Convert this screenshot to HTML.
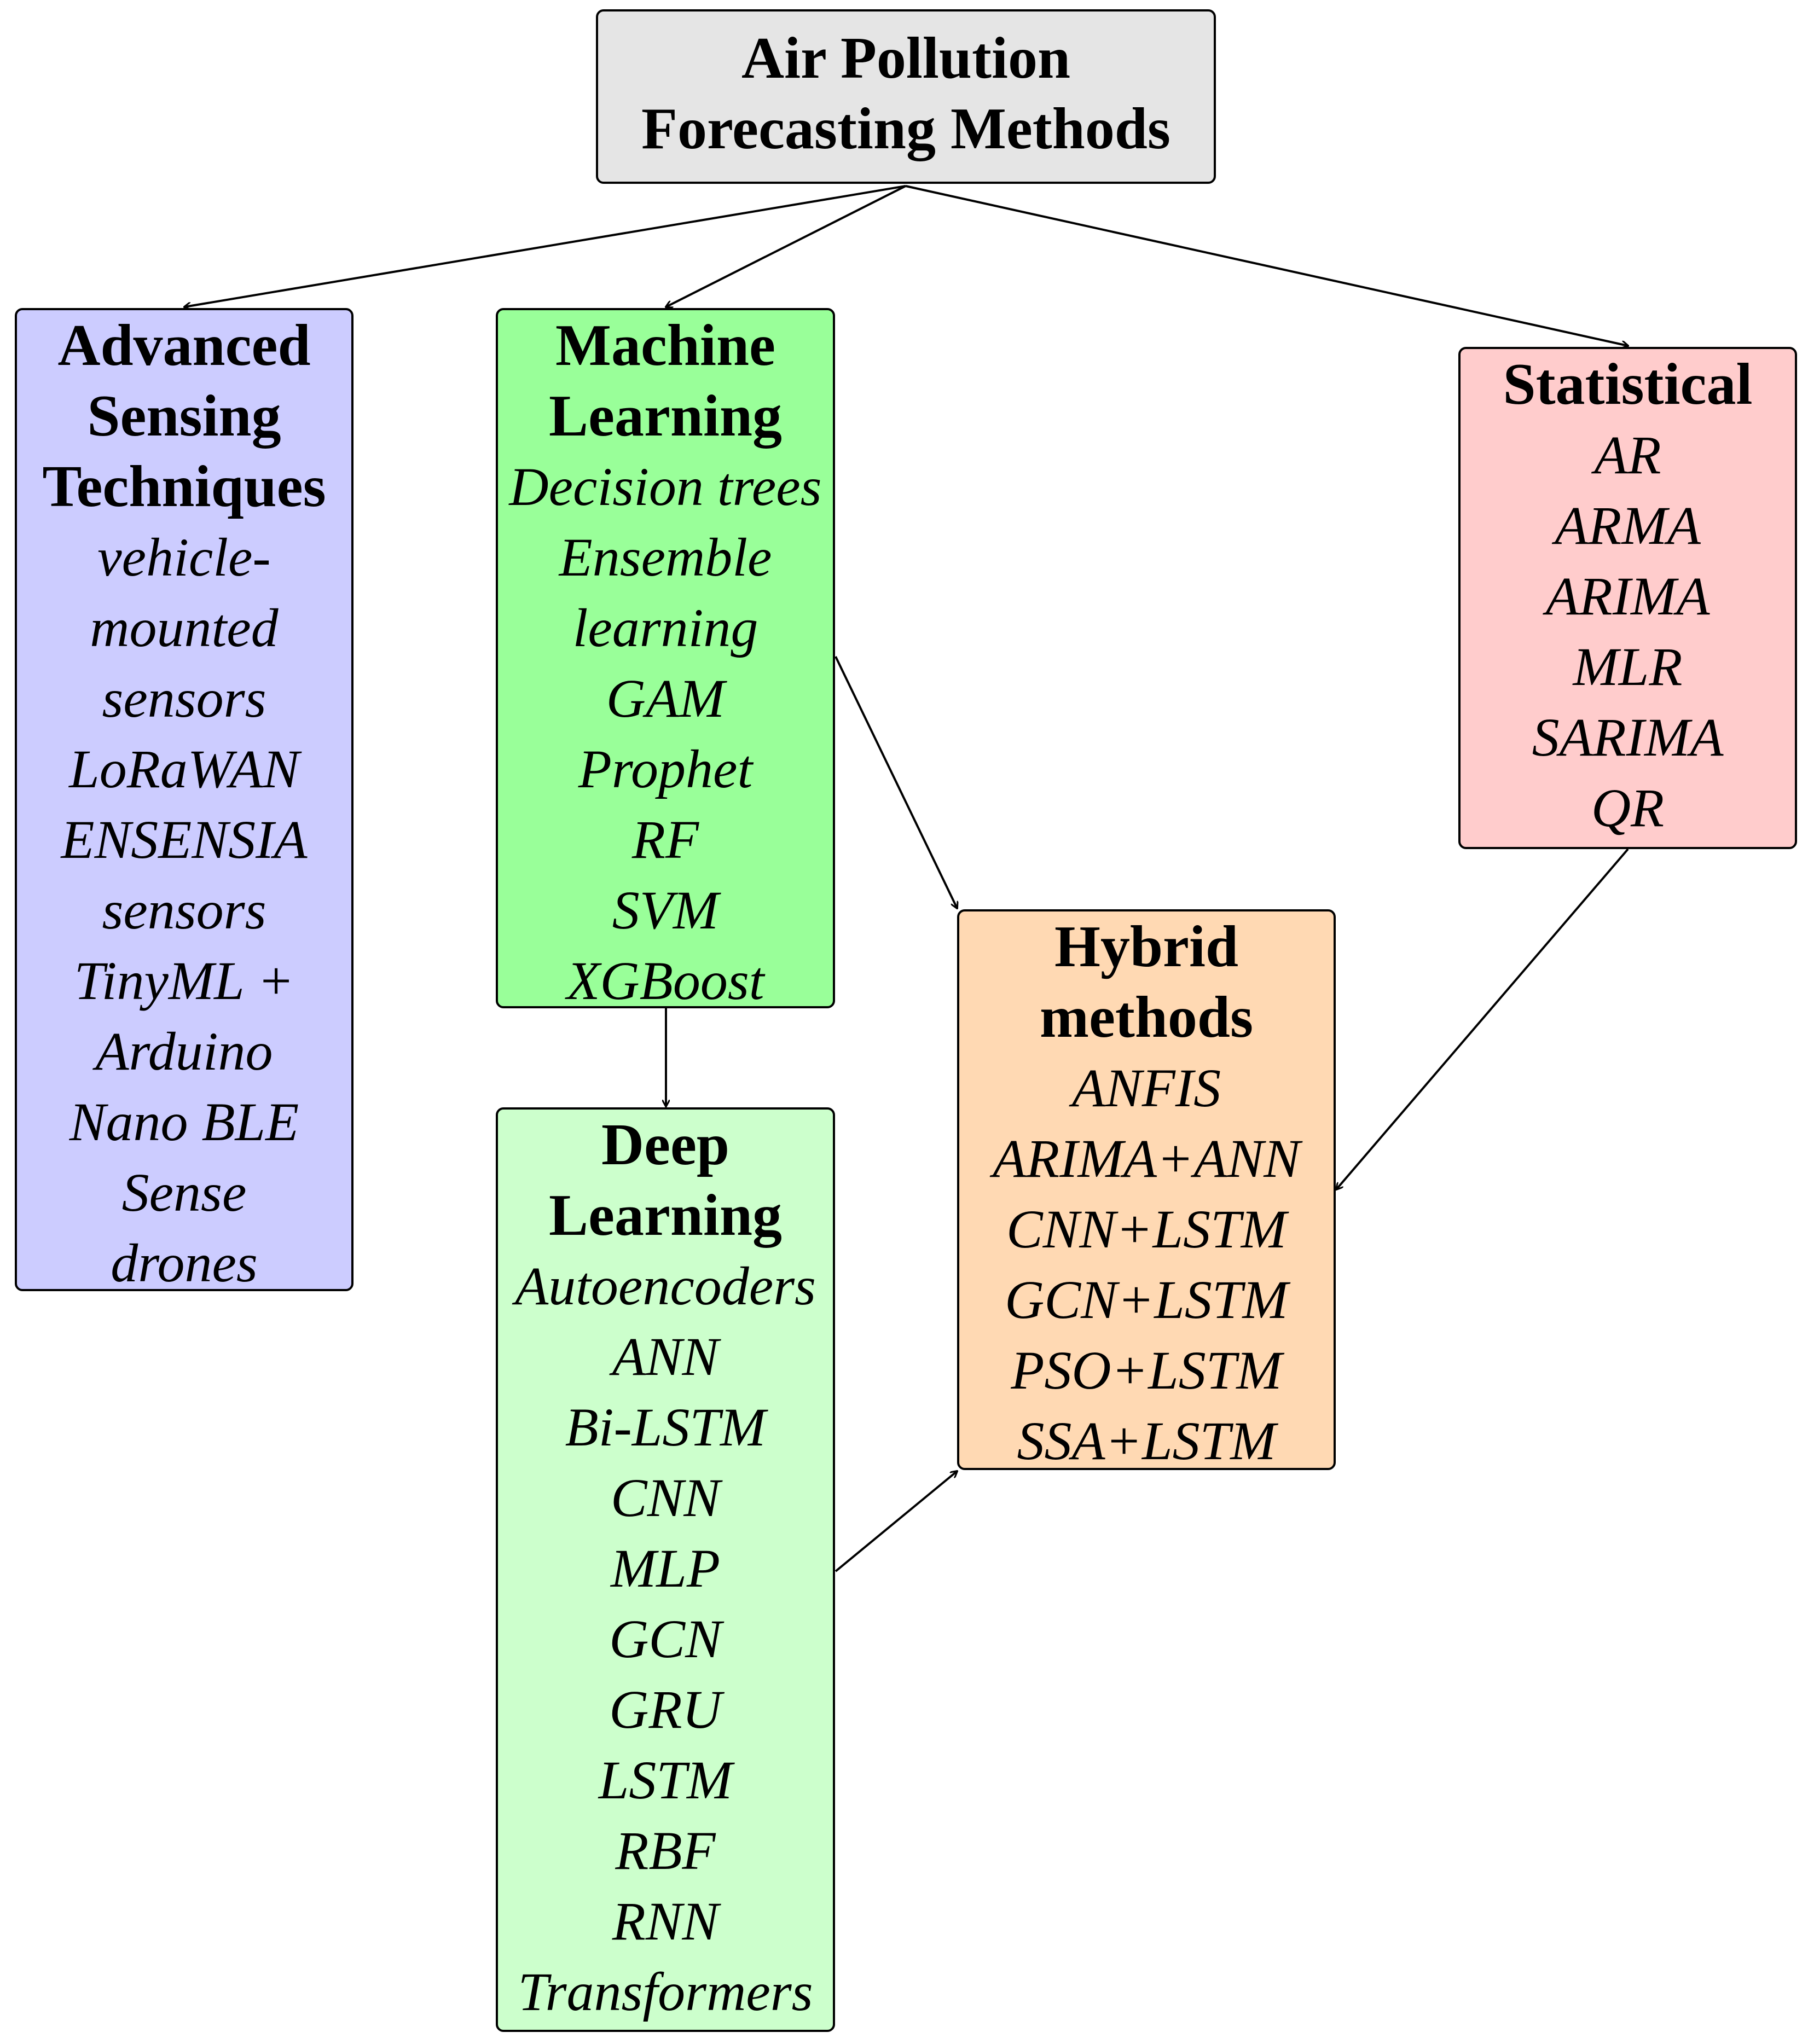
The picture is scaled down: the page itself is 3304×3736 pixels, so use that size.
<!DOCTYPE html>
<html><head><meta charset="utf-8"><style>
html,body{margin:0;padding:0;background:#fff;}
body{width:3304px;height:3736px;position:relative;overflow:hidden;font-family:"Liberation Serif",serif;}
.b{position:absolute;box-sizing:border-box;border:4px solid #000;border-radius:14px;text-align:center;line-height:129px;white-space:nowrap;}
.t{font-weight:bold;font-size:108px;display:block;}
.i{font-style:italic;font-size:100px;display:block;}
svg{position:absolute;left:0;top:0;}
</style></head><body>
<svg width="3304" height="3736">
<defs><marker id="a" markerWidth="14" markerHeight="14" refX="12" refY="7" orient="auto" markerUnits="userSpaceOnUse"><path d="M0,0 L13,7 L0,14" fill="none" stroke="#000" stroke-width="3"/></marker></defs>
<g stroke="#000" stroke-width="4" fill="none" marker-end="url(#a)">
<line x1="1655" y1="340" x2="337" y2="561"/>
<line x1="1655" y1="340" x2="1217" y2="561"/>
<line x1="1655" y1="340" x2="2975" y2="632"/>
<line x1="1527" y1="1200" x2="1749" y2="1660"/>
<line x1="2975" y1="1552" x2="2442" y2="2174"/>
<line x1="1217" y1="1843" x2="1217" y2="2022"/>
<line x1="1527" y1="2872" x2="1749" y2="2689"/>
</g></svg>
<div class="b" style="left:1089px;top:17px;width:1133px;height:319px;background:#e5e5e5;padding-top:21px;"><span class="t">Air Pollution</span><span class="t">Forecasting Methods</span></div>
<div class="b" style="left:27px;top:563px;width:619px;height:1797px;background:#ccccff;"><span class="t">Advanced</span><span class="t">Sensing</span><span class="t">Techniques</span><span class="i">vehicle-</span><span class="i">mounted</span><span class="i">sensors</span><span class="i">LoRaWAN</span><span class="i">ENSENSIA</span><span class="i">sensors</span><span class="i">TinyML +</span><span class="i">Arduino</span><span class="i">Nano BLE</span><span class="i">Sense</span><span class="i">drones</span></div>
<div class="b" style="left:906px;top:563px;width:620px;height:1280px;background:#99ff99;"><span class="t">Machine</span><span class="t">Learning</span><span class="i">Decision trees</span><span class="i">Ensemble</span><span class="i">learning</span><span class="i">GAM</span><span class="i">Prophet</span><span class="i">RF</span><span class="i">SVM</span><span class="i">XGBoost</span></div>
<div class="b" style="left:2665px;top:634px;width:619px;height:918px;background:#ffcccc;"><span class="t">Statistical</span><span class="i">AR</span><span class="i">ARMA</span><span class="i">ARIMA</span><span class="i">MLR</span><span class="i">SARIMA</span><span class="i">QR</span></div>
<div class="b" style="left:1749px;top:1662px;width:692px;height:1025px;background:#ffd9b3;"><span class="t">Hybrid</span><span class="t">methods</span><span class="i">ANFIS</span><span class="i">ARIMA+ANN</span><span class="i">CNN+LSTM</span><span class="i">GCN+LSTM</span><span class="i">PSO+LSTM</span><span class="i">SSA+LSTM</span></div>
<div class="b" style="left:906px;top:2024px;width:620px;height:1690px;background:#ccffcc;"><span class="t">Deep</span><span class="t">Learning</span><span class="i">Autoencoders</span><span class="i">ANN</span><span class="i">Bi-LSTM</span><span class="i">CNN</span><span class="i">MLP</span><span class="i">GCN</span><span class="i">GRU</span><span class="i">LSTM</span><span class="i">RBF</span><span class="i">RNN</span><span class="i">Transformers</span></div>
</body></html>
